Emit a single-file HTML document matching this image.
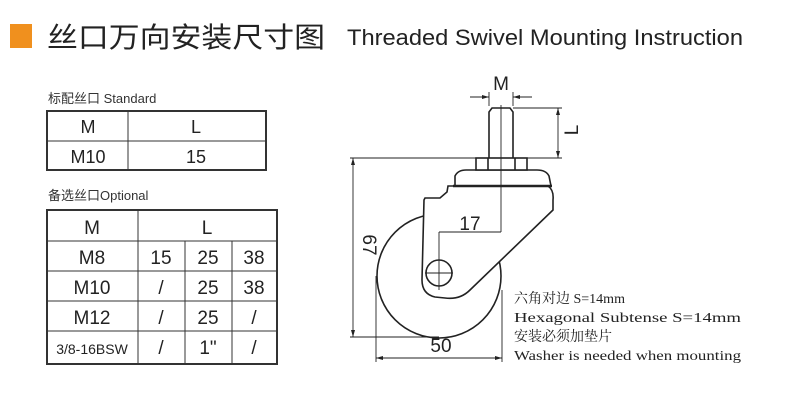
<!DOCTYPE html>
<html><head><meta charset="utf-8"><style>
html,body{margin:0;padding:0;background:#fff;width:789px;height:408px;overflow:hidden}
svg{display:block}
</style></head><body>
<svg width="789" height="408" viewBox="0 0 789 408" xmlns="http://www.w3.org/2000/svg" font-family="Liberation Sans, Noto Sans CJK SC, sans-serif">
<rect x="10" y="24" width="22" height="24" fill="#f0901e"/>
<text x="47" y="47" font-size="28" fill="#222" textLength="278" lengthAdjust="spacingAndGlyphs">丝口万向安装尺寸图</text>
<text x="347" y="45" font-size="22" fill="#222" textLength="396" lengthAdjust="spacingAndGlyphs">Threaded Swivel Mounting Instruction</text>

<text x="48" y="103" font-size="13" fill="#333">标配丝口 Standard</text>
<g stroke="#333" fill="none">
<rect x="47" y="111" width="219" height="59" stroke-width="2"/>
<line x1="128" y1="111" x2="128" y2="170"/>
<line x1="47" y1="141" x2="266" y2="141"/>
</g>
<g font-size="18" fill="#222" text-anchor="middle">
<text x="88" y="133">M</text><text x="196" y="133">L</text>
<text x="88" y="163">M10</text><text x="196" y="163">15</text>
</g>

<text x="48" y="200" font-size="13" fill="#333">备选丝口Optional</text>
<g stroke="#333" fill="none">
<rect x="47" y="210" width="230" height="154" stroke-width="2"/>
<line x1="138" y1="210" x2="138" y2="364"/>
<line x1="47" y1="241" x2="277" y2="241"/>
<line x1="47" y1="271" x2="277" y2="271"/>
<line x1="47" y1="301" x2="277" y2="301"/>
<line x1="47" y1="331" x2="277" y2="331"/>
<line x1="185" y1="241" x2="185" y2="364"/>
<line x1="232" y1="241" x2="232" y2="364"/>
</g>
<g font-size="19" fill="#222" text-anchor="middle">
<text x="92" y="234">M</text><text x="207" y="234">L</text>
<text x="92" y="264">M8</text><text x="161" y="264">15</text><text x="208" y="264">25</text><text x="254" y="264">38</text>
<text x="92" y="294">M10</text><text x="161" y="294">/</text><text x="208" y="294">25</text><text x="254" y="294">38</text>
<text x="92" y="324">M12</text><text x="161" y="324">/</text><text x="208" y="324">25</text><text x="254" y="324">/</text>
<text x="92" y="354" font-size="14">3/8-16BSW</text><text x="161" y="354">/</text><text x="208" y="354">1"</text><text x="254" y="354">/</text>
</g>

<g stroke="#222" fill="none" stroke-width="1.6">
<circle cx="439" cy="276" r="62"/>
<path d="M425,198 L440,198 L447,192 L448,186 L548,186 Q554,190 553,200 L553,210 L470,290 Q460,300 445,298 L435,297 Q422,294 422,280 L424,200 Z" fill="#fff"/>
<circle cx="439" cy="273" r="13"/>
<path d="M455,186 L455,176 Q458,170 466,170 L537,170 Q546,170 549,176 L551,186 Z" fill="#fff"/>
<line x1="453" y1="186" x2="552" y2="186" stroke-width="2.5"/>
<rect x="476" y="158" width="51" height="12" fill="#fff"/>
<line x1="488" y1="158" x2="488" y2="170"/>
<line x1="515" y1="158" x2="515" y2="170"/>
<path d="M489,158 L489,112 L492,108 L510,108 L513,112 L513,158"/>
</g>
<g stroke="#222" fill="none" stroke-width="0.9">
<line x1="501" y1="105" x2="501" y2="232"/>
<line x1="439" y1="232" x2="501" y2="232"/>
<line x1="439" y1="232" x2="439" y2="290"/>
<line x1="425" y1="273" x2="453" y2="273"/>
<line x1="489" y1="92" x2="489" y2="106"/><line x1="513" y1="92" x2="513" y2="106"/>
<line x1="470" y1="97" x2="489" y2="97"/><line x1="513" y1="97" x2="532" y2="97"/>
<line x1="513" y1="108" x2="562" y2="108"/>
<line x1="527" y1="158" x2="562" y2="158"/>
<line x1="558" y1="108" x2="558" y2="158"/>
<line x1="350" y1="158" x2="476" y2="158"/>
<line x1="350" y1="337" x2="439" y2="337"/>
<line x1="353" y1="158" x2="353" y2="337"/>
<line x1="376" y1="276" x2="376" y2="362"/>
<line x1="502" y1="290" x2="502" y2="362"/>
<line x1="376" y1="358" x2="502" y2="358"/>
</g>
<g fill="#222">
<path d="M489,97 l-7,-2 v4z M513,97 l7,-2 v4z"/>
<path d="M558,108 l-2,7 h4z M558,158 l-2,-7 h4z"/>
<path d="M353,158 l-2,7 h4z M353,337 l-2,-7 h4z"/>
<path d="M376,358 l7,-2 v4z M502,358 l-7,-2 v4z"/>
</g>
<g font-size="19" fill="#222" text-anchor="middle">
<text x="501" y="90">M</text>
<text x="573" y="130" transform="rotate(-90 573 130)" dominant-baseline="middle">L</text>
<text x="368" y="245" transform="rotate(90 368 245)" dominant-baseline="middle">67</text>
<text x="470" y="230">17</text>
<text x="441" y="352">50</text>
</g>
<g font-family="Liberation Serif, Noto Serif CJK SC, serif" font-size="14" fill="#222">
<text x="514" y="303">六角对边 S=14mm</text>
<text x="514" y="322" textLength="227" lengthAdjust="spacingAndGlyphs">Hexagonal Subtense S=14mm</text>
<text x="514" y="341">安装必须加垫片</text>
<text x="514" y="360" textLength="227" lengthAdjust="spacingAndGlyphs">Washer is needed when mounting</text>
</g>
</svg>
</body></html>
